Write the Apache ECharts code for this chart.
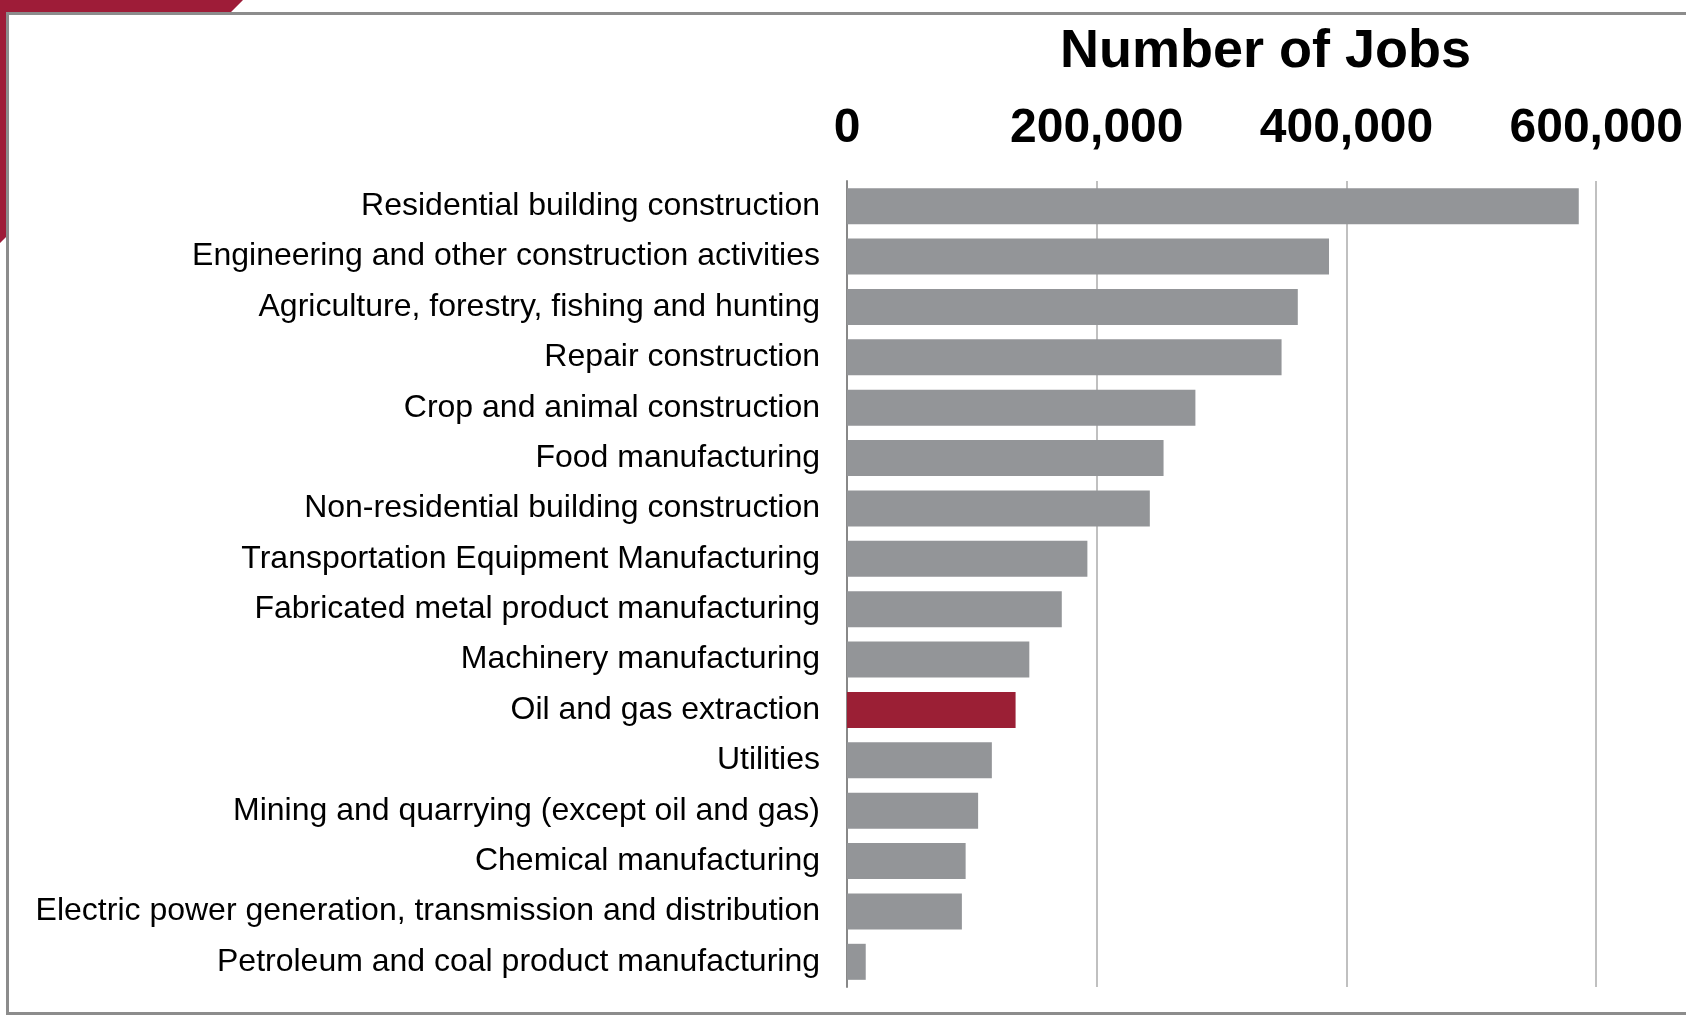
<!DOCTYPE html>
<html>
<head>
<meta charset="utf-8">
<title>Number of Jobs by Industry</title>
<script src="https://cdn.jsdelivr.net/npm/echarts@6/dist/echarts.min.js"></script>
<style>
  html, body { margin: 0; padding: 0; background: #ffffff; }
  #chart { width: 1686px; height: 1015px; }
</style>
</head>
<body>
<div id="chart"></div>
<script>
// Industries, top to bottom
const industries = [
  'Residential building construction',
  'Engineering and other construction activities',
  'Agriculture, forestry, fishing and hunting',
  'Repair construction',
  'Crop and animal construction',
  'Food manufacturing',
  'Non-residential building construction',
  'Transportation Equipment Manufacturing',
  'Fabricated metal product manufacturing',
  'Machinery manufacturing',
  'Oil and gas extraction',
  'Utilities',
  'Mining and quarrying (except oil and gas)',
  'Chemical manufacturing',
  'Electric power generation, transmission and distribution',
  'Petroleum and coal product manufacturing'
];

// Number of jobs per industry
const jobs = [
  586000, 386000, 361000, 348000, 279000, 253500, 242500, 192500,
  172000, 146000, 135000, 116000, 105000, 95000, 92000, 15000
];

// Highlighted industry
const highlighted = 'Oil and gas extraction';

// Value axis ticks
const xTicks = [0, 200000, 400000, 600000];

const GRAY = '#939598';
const RED = '#9b1f35';

const chart = echarts.init(document.getElementById('chart'), null, { renderer: 'canvas' });

chart.setOption({
  animation: false,
  backgroundColor: '#ffffff',
  title: {
    text: 'Number of Jobs',
    left: 1055,
    top: 20,
    textStyle: {
      fontFamily: 'Liberation Sans, Arial, sans-serif',
      fontWeight: 'bold',
      fontSize: 54,
      color: '#000000'
    }
  },
  graphic: [
    {
      type: 'polygon',
      silent: true,
      shape: { points: [[0, 0], [243, 0], [229, 14], [7, 14], [7, 236], [0, 243]] },
      style: { fill: '#9e1c38' }
    },
    {
      type: 'rect',
      silent: true,
      shape: { x: 7.5, y: 13.5, width: 1700, height: 1000 },
      style: { fill: 'none', stroke: '#8c8c8c', lineWidth: 3 }
    }
  ],
  grid: {
    left: 847,
    right: 88,
    top: 181,
    bottom: 28,
    containLabel: false
  },
  xAxis: {
    type: 'value',
    position: 'top',
    min: xTicks[0],
    max: xTicks[xTicks.length - 1],
    interval: xTicks[1] - xTicks[0],
    axisLine: { show: false },
    axisTick: { show: false },
    splitLine: { show: true, lineStyle: { color: '#c0c0c0', width: 2 } },
    axisLabel: {
      margin: 28,
      fontFamily: 'Liberation Sans, Arial, sans-serif',
      fontWeight: 'bold',
      fontSize: 48,
      color: '#000000',
      formatter: v => v.toLocaleString('en-US')
    }
  },
  yAxis: {
    type: 'category',
    inverse: true,
    data: industries,
    axisLine: { show: true, lineStyle: { color: '#888888', width: 2 } },
    axisTick: { show: false },
    splitLine: { show: false },
    axisLabel: {
      margin: 27,
      fontFamily: 'Liberation Sans, Arial, sans-serif',
      fontSize: 32,
      color: '#000000'
    }
  },
  series: [{
    type: 'bar',
    barCategoryGap: '28.5%',
    data: jobs.map((v, i) => ({
      value: v,
      itemStyle: { color: industries[i] === highlighted ? RED : GRAY }
    })),
    z: 3
  }]
});
</script>
</body>
</html>
